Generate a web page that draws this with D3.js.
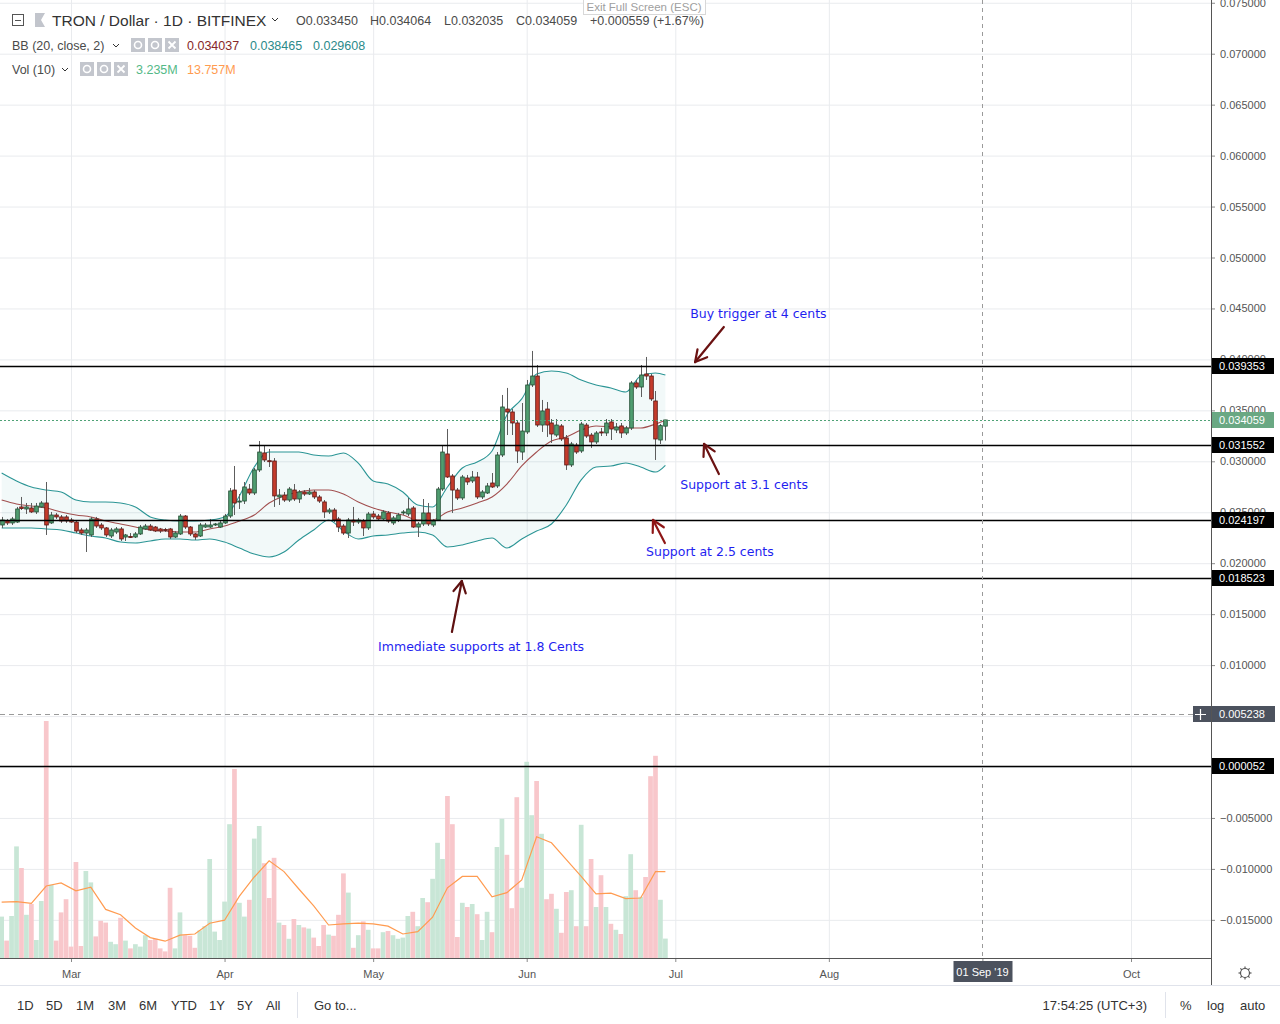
<!DOCTYPE html>
<html>
<head>
<meta charset="utf-8">
<script src="https://cdnjs.cloudflare.com/ajax/libs/d3/7.8.5/d3.min.js"></script>
<style>
body { margin: 0; background: #ffffff; }
svg text { font-family: "Liberation Sans", Arial, sans-serif; }
</style>
</head>
<body>
<div id="chart"></div>
<script>
// TRX/USD daily, Bitfinex, 15 Feb 2019 -> 29 Jun 2019 (one value per day)
var firstDay = "2019-02-15";

var openPrices = [0.02375,0.02414,0.02395,0.02404,0.02552,0.02532,0.02542,0.02503,0.02552,0.02591,
  0.02395,0.02473,0.02454,0.02454,0.02424,0.02404,0.02326,0.02296,0.02277,0.02434,
  0.02375,0.02346,0.02267,0.02306,0.02336,0.02257,0.02262,0.02257,0.02287,0.02336,
  0.02365,0.02355,0.02336,0.02331,0.02336,0.02257,0.02287,0.02463,0.02355,0.02287,
  0.02267,0.02355,0.02355,0.02375,0.02355,0.02395,0.02463,0.02718,0.02601,0.02610,
  0.02728,0.02689,0.02915,0.03082,0.03006,0.03003,0.02650,0.02669,0.02620,0.02718,
  0.02630,0.02699,0.02679,0.02699,0.02650,0.02601,0.02503,0.02522,0.02434,0.02365,
  0.02296,0.02424,0.02404,0.02414,0.02346,0.02483,0.02463,0.02434,0.02493,0.02395,
  0.02424,0.02493,0.02483,0.02542,0.02355,0.02385,0.02493,0.02375,0.02424,0.02728,
  0.03072,0.02856,0.02718,0.02640,0.02836,0.02807,0.02846,0.02650,0.02689,0.02787,
  0.02758,0.03062,0.03513,0.03484,0.03376,0.03091,0.03288,0.03749,0.03837,0.03356,
  0.03513,0.03376,0.03258,0.03347,0.03229,0.02964,0.03160,0.03101,0.03356,0.03258,
  0.03190,0.03288,0.03278,0.03386,0.03307,0.03347,0.03278,0.03327,0.03769,0.03729,
  0.03857,0.03837,0.03592,0.03209,0.033450];
var highPrices = [0.02454,0.02434,0.02454,0.02552,0.02650,0.02591,0.02591,0.02591,0.02610,0.02797,
  0.02503,0.02493,0.02473,0.02473,0.02444,0.02424,0.02346,0.02346,0.02454,0.02454,
  0.02395,0.02355,0.02346,0.02355,0.02355,0.02287,0.02296,0.02306,0.02375,0.02385,
  0.02385,0.02365,0.02346,0.02346,0.02346,0.02316,0.02483,0.02473,0.02365,0.02296,
  0.02395,0.02395,0.02434,0.02395,0.02414,0.02483,0.02738,0.02954,0.02679,0.02797,
  0.02777,0.02934,0.03199,0.03150,0.03121,0.03032,0.02728,0.02699,0.02748,0.02777,
  0.02718,0.02718,0.02738,0.02718,0.02669,0.02620,0.02542,0.02542,0.02454,0.02385,
  0.02444,0.02552,0.02444,0.02434,0.02503,0.02512,0.02483,0.02522,0.02512,0.02463,
  0.02493,0.02522,0.02640,0.02561,0.02404,0.02630,0.02591,0.02434,0.02748,0.03150,
  0.03317,0.02875,0.02738,0.02866,0.02866,0.02905,0.02895,0.02718,0.02787,0.02885,
  0.03091,0.03651,0.03720,0.03513,0.03405,0.03572,0.03798,0.04083,0.03945,0.03602,
  0.03582,0.03415,0.03415,0.03366,0.03258,0.03190,0.03180,0.03386,0.03376,0.03278,
  0.03297,0.03327,0.03415,0.03415,0.03376,0.03376,0.03347,0.03788,0.03798,0.03945,
  0.04024,0.03857,0.03690,0.03366,0.034064];
var lowPrices = [0.02346,0.02375,0.02375,0.02395,0.02522,0.02483,0.02493,0.02483,0.02542,0.02277,
  0.02385,0.02434,0.02395,0.02395,0.02395,0.02296,0.02277,0.02110,0.02257,0.02346,
  0.02326,0.02257,0.02247,0.02287,0.02218,0.02218,0.02247,0.02247,0.02277,0.02326,
  0.02316,0.02306,0.02296,0.02306,0.02238,0.02247,0.02277,0.02336,0.02267,0.02228,
  0.02257,0.02346,0.02346,0.02365,0.02346,0.02385,0.02444,0.02473,0.02532,0.02581,
  0.02669,0.02669,0.02895,0.02993,0.02944,0.02552,0.02571,0.02601,0.02601,0.02610,
  0.02591,0.02660,0.02669,0.02630,0.02591,0.02444,0.02483,0.02404,0.02306,0.02277,
  0.02247,0.02365,0.02385,0.02267,0.02326,0.02434,0.02414,0.02414,0.02395,0.02375,
  0.02404,0.02473,0.02463,0.02346,0.02257,0.02365,0.02365,0.02355,0.02414,0.02709,
  0.02836,0.02493,0.02620,0.02620,0.02768,0.02787,0.02630,0.02630,0.02679,0.02738,
  0.02738,0.03042,0.03258,0.03258,0.02983,0.03013,0.03268,0.03729,0.03337,0.03288,
  0.03239,0.03180,0.03239,0.03199,0.02915,0.02944,0.03072,0.03082,0.03229,0.03131,
  0.03170,0.03248,0.03248,0.03209,0.03278,0.03229,0.03258,0.03307,0.03710,0.03631,
  0.03798,0.03592,0.03013,0.03170,0.032035];
var closePrices = [0.02424,0.02395,0.02434,0.02532,0.02537,0.02552,0.02503,0.02561,0.02591,0.02375,
  0.02473,0.02454,0.02414,0.02414,0.02404,0.02316,0.02296,0.02326,0.02434,0.02365,
  0.02346,0.02277,0.02326,0.02336,0.02238,0.02277,0.02257,0.02287,0.02355,0.02365,
  0.02326,0.02316,0.02316,0.02321,0.02257,0.02296,0.02463,0.02355,0.02287,0.02257,
  0.02375,0.02375,0.02375,0.02385,0.02395,0.02463,0.02709,0.02591,0.02610,0.02748,
  0.02689,0.02915,0.03091,0.03013,0.02996,0.02660,0.02669,0.02620,0.02728,0.02630,
  0.02699,0.02679,0.02699,0.02650,0.02610,0.02503,0.02522,0.02424,0.02355,0.02296,
  0.02424,0.02404,0.02424,0.02346,0.02483,0.02454,0.02434,0.02503,0.02414,0.02444,
  0.02473,0.02503,0.02532,0.02355,0.02385,0.02493,0.02385,0.02414,0.02728,0.03091,
  0.02846,0.02718,0.02640,0.02846,0.02797,0.02846,0.02650,0.02699,0.02758,0.02748,
  0.03062,0.03533,0.03484,0.03376,0.03101,0.03297,0.03749,0.03837,0.03356,0.03494,
  0.03356,0.03268,0.03356,0.03219,0.02964,0.03170,0.03091,0.03366,0.03248,0.03190,
  0.03278,0.03278,0.03376,0.03317,0.03337,0.03278,0.03327,0.03769,0.03729,0.03847,
  0.03837,0.03612,0.03219,0.033500,0.034059];
// volume, millions TRX
var volumes = [6.9,2.9,7.0,18.6,15.0,7.2,9.0,3.0,9.5,39.5,
  12.2,2.9,7.6,9.8,1.9,16.0,2.0,14.5,12.6,3.6,
  6.2,5.9,2.7,2.3,6.7,2.9,1.6,2.3,1.9,3.8,
  3.0,3.2,1.6,1.1,11.7,1.6,7.6,3.8,3.7,1.7,
  4.6,5.3,16.5,4.4,3.0,9.4,22.3,31.5,9.2,6.9,
  9.7,19.9,22.0,15.8,10.0,16.7,5.9,5.5,3.2,6.5,
  5.5,5.1,4.9,3.4,2.0,5.5,3.9,3.7,7.2,14.1,
  10.9,1.7,3.8,6.1,4.7,1.6,1.6,4.3,4.5,3.8,
  3.2,3.4,7.0,7.7,5.3,10.0,9.3,13.2,19.2,16.5,
  27.0,22.3,3.5,9.2,8.5,9.0,7.3,3.0,7.7,4.3,
  18.5,23.2,17.2,8.3,26.8,11.7,32.7,23.8,29.5,20.7,
  9.8,10.7,8.2,4.2,11.0,11.3,5.3,22.2,5.3,16.5,
  8.5,13.8,8.5,5.7,4.7,4.0,10.3,17.3,11.3,10.2,
  13.5,30.3,33.7,9.7,3.235];

// indicator readings (day offset from firstDay)
var bbDays = [0,3,6,9,12,15,18,21,24,27,30,33,36,39,42,45,48,51,54,57,60,63,66,69,72,75,
  78,81,84,87,90,93,96,99,102,105,108,111,114,117,120,123,126,129,132,134];
var bbUpper = [0.02885,0.02807,0.02748,0.02718,0.02699,0.02620,0.02601,0.02601,0.02591,0.02552,
  0.02454,0.02424,0.02414,0.02414,0.02424,0.02454,0.02660,0.02944,0.03091,0.03091,
  0.03091,0.03062,0.03052,0.03082,0.02983,0.02807,0.02777,0.02699,0.02571,0.02552,
  0.02748,0.02934,0.02993,0.03101,0.03455,0.03612,0.03857,0.03886,0.03867,0.03798,
  0.03749,0.03720,0.03680,0.03837,0.03867,0.038465];
var bbMiddle = [0.02620,0.02581,0.02561,0.02542,0.02503,0.02473,0.02454,0.02414,0.02385,0.02355,
  0.02326,0.02316,0.02306,0.02306,0.02336,0.02365,0.02414,0.02473,0.02591,0.02660,
  0.02699,0.02718,0.02718,0.02679,0.02601,0.02542,0.02503,0.02473,0.02424,0.02424,
  0.02503,0.02542,0.02591,0.02650,0.02777,0.02954,0.03091,0.03199,0.03239,0.03307,
  0.03347,0.03337,0.03327,0.03327,0.03366,0.034037];
var bbLower = [0.02346,0.02346,0.02346,0.02336,0.02326,0.02296,0.02267,0.02247,0.02208,0.02198,
  0.02218,0.02238,0.02238,0.02228,0.02238,0.02208,0.02149,0.02090,0.02061,0.02110,
  0.02228,0.02326,0.02424,0.02316,0.02238,0.02267,0.02277,0.02296,0.02306,0.02277,
  0.02159,0.02179,0.02218,0.02247,0.02149,0.02238,0.02316,0.02385,0.02571,0.02817,
  0.02944,0.02954,0.02983,0.02944,0.02895,0.029608];
var volMa = [9.3,9.4,9.1,12.0,12.5,11.2,11.8,8.1,7.2,5.0,
  3.4,2.8,3.8,4.0,5.8,6.3,10.3,13.5,16.2,14.4,
  11.5,8.7,5.5,5.7,5.8,5.7,5.3,4.0,4.4,6.8,
  11.7,13.6,13.6,10.2,10.9,13.0,20.2,19.2,16.4,13.6,
  10.7,10.8,9.9,10.0,14.4,14.4];
var volMaLast = 13.757;

// drawn levels
var levelPrices = [0.039353, 0.031552, 0.024197, 0.018523, 0.000052];
var levelStartDay = [null, 50, null, null, null];
var lastPrice = 0.034059;
var cursorPrice = 0.005238;
var cursorDate = "2019-09-01";

var priceTicks = [-0.015,-0.010,-0.005,0,0.005,0.010,0.015,0.020,0.025,0.030,0.035,0.040,
  0.045,0.050,0.055,0.060,0.065,0.070,0.075];
var monthTicks = ["2019-03-01","2019-04-01","2019-05-01","2019-06-01","2019-07-01",
  "2019-08-01","2019-09-01","2019-10-01"];

var notes = [
    {text: "Buy trigger at 4 cents", day: 139.0, price: 0.04446},
    {text: "Support at 3.1 cents", day: 137.0, price: 0.02767},
    {text: "Support at 2.5 cents", day: 130.1, price: 0.02110},
    {text: "Immediate supports at 1.8 Cents", day: 76.0, price: 0.01178}
];
var arrows = [
    {fromDay: 145.8, fromPrice: 0.04318, toDay: 140.0, toPrice: 0.03974, color: "#6b1212"},
    {fromDay: 144.8, fromPrice: 0.02875, toDay: 141.8, toPrice: 0.03170, color: "#6b1212"},
    {fromDay: 133.9, fromPrice: 0.02198, toDay: 131.5, toPrice: 0.02424, color: "#8e1616"},
    {fromDay: 90.9, fromPrice: 0.01325, toDay: 92.9, toPrice: 0.01825, color: "#5e1010"}
];

var W = 1280, H = 1024;
var plotRight = 1211, plotBottom = 958, toolbarTop = 985;

var parse = d3.utcParse("%Y-%m-%d");
var dayMs = 864e5;
var start = parse(firstDay).getTime();
function dayDate(d) { return new Date(start + d * dayMs); }

var bars = openPrices.map(function (o, i) {
    return {date: dayDate(i), open: o, high: highPrices[i], low: lowPrices[i],
            close: closePrices[i], volume: volumes[i]};
});
var bands = bbDays.map(function (d, i) {
    return {date: dayDate(d), upper: bbUpper[i], middle: bbMiddle[i], lower: bbLower[i], vma: volMa[i]};
});

var x = d3.scaleUtc()
    .domain([parse("2019-03-01"), parse("2019-10-01")])
    .range([71, 1131]);
var y = d3.scaleLinear()
    .domain([0, 0.075])
    .range([767, 2.75]);
var yVol = d3.scaleLinear()
    .domain([0, 40])
    .range([plotBottom, plotBottom - 240]);

var svg = d3.select("#chart")
    .append("svg")
    .attr("width", W)
    .attr("height", H);

svg.append("rect").attr("width", W).attr("height", H).attr("fill", "#ffffff");

// grid
svg.append("g")
    .call(d3.axisLeft(y).tickValues(priceTicks).tickFormat("").tickSize(-plotRight))
    .call(function (g) { g.select(".domain").remove(); })
    .selectAll("line").attr("stroke", "#e9ebee");
svg.append("g")
    .call(d3.axisBottom(x).tickValues(monthTicks.map(parse).filter(function (d) {
        return +d !== +parse(cursorDate); })).tickFormat("").tickSize(plotBottom))
    .call(function (g) { g.select(".domain").remove(); })
    .selectAll("line").attr("stroke", "#e9ebee");

// volume
var barW = 4.7;
svg.append("g").selectAll("rect")
    .data(bars)
    .enter()
    .append("rect")
    .attr("x", function (d) { return x(d.date) - barW / 2; })
    .attr("width", barW)
    .attr("y", function (d) { return yVol(d.volume); })
    .attr("height", function (d) { return plotBottom - yVol(d.volume); })
    .attr("fill", function (d) { return d.close >= d.open ? "#c8e6d6" : "#f8c7cb"; });

svg.append("path")
    .datum(bands)
    .attr("fill", "none")
    .attr("stroke", "#ff9b50")
    .attr("stroke-width", 1.2)
    .attr("d", d3.line()
        .x(function (d) { return x(d.date); })
        .y(function (d) { return yVol(d.vma); }));

// bollinger bands
svg.append("path")
    .datum(bands)
    .attr("fill", "#1a9a9a")
    .attr("fill-opacity", 0.055)
    .attr("d", d3.area()
        .x(function (d) { return x(d.date); })
        .y0(function (d) { return y(d.lower); })
        .y1(function (d) { return y(d.upper); })
        .curve(d3.curveMonotoneX));

function bandLine(key, color) {
    svg.append("path")
        .datum(bands)
        .attr("fill", "none")
        .attr("stroke", color)
        .attr("stroke-width", 1.1)
        .attr("d", d3.line()
            .x(function (d) { return x(d.date); })
            .y(function (d) { return y(d[key]); })
            .curve(d3.curveMonotoneX));
}
bandLine("upper", "#2b9595");
bandLine("lower", "#2b9595");
bandLine("middle", "#a24f4f");

// candles
var candleW = 3.6;
var candles = svg.append("g").selectAll("g")
    .data(bars)
    .enter()
    .append("g");
candles.append("line")
    .attr("x1", function (d) { return Math.round(x(d.date)) + 0.5; })
    .attr("x2", function (d) { return Math.round(x(d.date)) + 0.5; })
    .attr("y1", function (d) { return y(d.high); })
    .attr("y2", function (d) { return y(d.low); })
    .attr("stroke", "#5d5d5d")
    .attr("stroke-width", 1);
candles.append("rect")
    .attr("x", function (d) { return Math.round(x(d.date)) + 0.5 - candleW / 2; })
    .attr("width", candleW)
    .attr("y", function (d) { return y(Math.max(d.open, d.close)); })
    .attr("height", function (d) { return Math.max(1, Math.abs(y(d.open) - y(d.close))); })
    .attr("fill", function (d) { return d.close >= d.open ? "#4f9d70" : "#c43b2c"; })
    .attr("stroke", function (d) { return d.close >= d.open ? "#1e4a30" : "#5a1512"; })
    .attr("stroke-width", 0.8);

// horizontal levels
svg.append("g").selectAll("line")
    .data(levelPrices)
    .enter()
    .append("line")
    .attr("x1", function (d, i) { return levelStartDay[i] === null ? 0 : x(dayDate(levelStartDay[i])); })
    .attr("x2", plotRight)
    .attr("y1", function (d) { return Math.round(y(d)) + 0.5; })
    .attr("y2", function (d) { return Math.round(y(d)) + 0.5; })
    .attr("stroke", "#000000")
    .attr("stroke-width", 1.3);

svg.append("line")
    .attr("x1", 0).attr("x2", plotRight)
    .attr("y1", Math.round(y(lastPrice)) + 0.5).attr("y2", Math.round(y(lastPrice)) + 0.5)
    .attr("stroke", "#4fa276")
    .attr("stroke-dasharray", "2,2");

// crosshair
var cx = Math.round(x(parse(cursorDate))) + 0.5;
var cy = Math.round(y(cursorPrice)) + 0.5;
svg.append("line").attr("x1", cx).attr("x2", cx).attr("y1", 0).attr("y2", plotBottom)
    .attr("stroke", "#9a9a9a").attr("stroke-dasharray", "4,4");
svg.append("line").attr("x1", 0).attr("x2", plotRight).attr("y1", cy).attr("y2", cy)
    .attr("stroke", "#9a9a9a").attr("stroke-dasharray", "5,4");

// annotations
svg.append("g").selectAll("text")
    .data(notes)
    .enter()
    .append("text")
    .attr("x", function (d) { return x(dayDate(d.day)); })
    .attr("y", function (d) { return y(d.price); })
    .attr("dy", "0.35em")
    .style("font-family", "'DejaVu Sans', Verdana, sans-serif")
    .style("font-size", "12.5px")
    .attr("fill", "#1f1ff0")
    .text(function (d) { return d.text; });

arrows.forEach(function (a) {
    var x0 = x(dayDate(a.fromDay)), y0 = y(a.fromPrice);
    var x1 = x(dayDate(a.toDay)), y1 = y(a.toPrice);
    var ang = Math.atan2(y0 - y1, x0 - x1);
    var g = svg.append("g").attr("stroke", a.color).attr("stroke-width", 2.2)
        .attr("stroke-linecap", "round").attr("fill", "none");
    g.append("line").attr("x1", x0).attr("y1", y0).attr("x2", x1).attr("y2", y1);
    [-0.5, 0.5].forEach(function (s) {
        g.append("line").attr("x1", x1).attr("y1", y1)
            .attr("x2", x1 + 13 * Math.cos(ang + s))
            .attr("y2", y1 + 13 * Math.sin(ang + s));
    });
});

// price axis
svg.append("rect").attr("x", plotRight).attr("y", 0).attr("width", W - plotRight)
    .attr("height", toolbarTop).attr("fill", "#ffffff");
var yAxis = svg.append("g")
    .attr("transform", "translate(" + plotRight + ",0)")
    .call(d3.axisRight(y).tickValues(priceTicks).tickFormat(d3.format(".6f")).tickSize(4).tickPadding(5));
yAxis.select(".domain").remove();
yAxis.selectAll("line").attr("stroke", "#8a8a8a");
yAxis.selectAll("text").attr("fill", "#555555").style("font-size", "11px");

function priceTag(v, fill, withCross) {
    var yy = Math.round(y(v));
    var g = svg.append("g");
    g.append("line").attr("x1", plotRight).attr("x2", plotRight + 4)
        .attr("y1", yy + 0.5).attr("y2", yy + 0.5).attr("stroke", fill);
    g.append("rect")
        .attr("x", withCross ? 1193 : plotRight + 1).attr("y", yy - 8)
        .attr("width", withCross ? 82 : 62).attr("height", 16)
        .attr("fill", fill);
    g.append("text").attr("x", 1219).attr("y", yy).attr("dy", "0.36em")
        .attr("fill", "#ffffff").style("font-size", "11px").text(d3.format(".6f")(v));
    if (withCross) {
        g.append("path").attr("d", "M1195," + (yy + 0.5) + "h11M1200.5," + (yy - 5) + "v11")
            .attr("stroke", "#ffffff").attr("stroke-width", 1.2);
    }
}
levelPrices.forEach(function (v) { priceTag(v, "#000000", false); });
priceTag(lastPrice, "#6aa883", false);
priceTag(cursorPrice, "#4c525e", true);

// time axis (the September label sits under the crosshair date box)
svg.append("rect").attr("x", 0).attr("y", plotBottom).attr("width", plotRight)
    .attr("height", toolbarTop - plotBottom).attr("fill", "#ffffff");
var xAxis = svg.append("g")
    .attr("transform", "translate(0," + plotBottom + ")")
    .call(d3.axisBottom(x).tickValues(monthTicks.map(parse))
        .tickFormat(function (d) { return +d === +parse(cursorDate) ? "" : d3.utcFormat("%b")(d); })
        .tickSize(4).tickPadding(8));
xAxis.select(".domain").remove();
xAxis.selectAll("line").attr("stroke", "#8a8a8a");
xAxis.selectAll("text").attr("fill", "#555555").style("font-size", "11px");

svg.append("line").attr("x1", 0).attr("x2", plotRight).attr("y1", plotBottom + 0.5).attr("y2", plotBottom + 0.5)
    .attr("stroke", "#555555");
svg.append("line").attr("x1", plotRight + 0.5).attr("x2", plotRight + 0.5).attr("y1", 0).attr("y2", toolbarTop)
    .attr("stroke", "#555555");

svg.append("rect").attr("x", cx - 29).attr("y", plotBottom + 3).attr("width", 59).attr("height", 21)
    .attr("fill", "#4c525e");
svg.append("text").attr("x", cx).attr("y", plotBottom + 14).attr("dy", "0.35em")
    .attr("text-anchor", "middle").attr("fill", "#ffffff").style("font-size", "11px")
    .text(d3.utcFormat("%d %b '%y")(parse(cursorDate)));

// settings gear
var gear = svg.append("g").attr("transform", "translate(1245,973)")
    .attr("stroke", "#555555").attr("fill", "none").attr("stroke-width", 1.2);
gear.append("circle").attr("r", 4.5);
d3.range(8).forEach(function (k) {
    var a = k * Math.PI / 4;
    gear.append("line").attr("x1", 4.5 * Math.cos(a)).attr("y1", 4.5 * Math.sin(a))
        .attr("x2", 6.5 * Math.cos(a)).attr("y2", 6.5 * Math.sin(a));
});

// bottom toolbar
svg.append("line").attr("x1", 0).attr("x2", W).attr("y1", toolbarTop + 0.5).attr("y2", toolbarTop + 0.5)
    .attr("stroke", "#e0e3eb");
var ranges = ["1D", "5D", "1M", "3M", "6M", "YTD", "1Y", "5Y", "All"];
var rangeX = [17, 46, 76, 108, 139, 171, 209, 237, 266];
ranges.forEach(function (r, i) {
    svg.append("text").attr("x", rangeX[i]).attr("y", 1010).attr("fill", "#333333")
        .style("font-size", "13px").text(r);
});
svg.append("line").attr("x1", 297.5).attr("x2", 297.5).attr("y1", 992).attr("y2", 1018).attr("stroke", "#e0e3eb");
svg.append("text").attr("x", 314).attr("y", 1010).attr("fill", "#333333").style("font-size", "13px").text("Go to...");
svg.append("text").attr("x", 1147).attr("y", 1010).attr("text-anchor", "end").attr("fill", "#333333")
    .style("font-size", "13px").text("17:54:25 (UTC+3)");
svg.append("line").attr("x1", 1165.5).attr("x2", 1165.5).attr("y1", 992).attr("y2", 1018).attr("stroke", "#e0e3eb");
[["%", 1180], ["log", 1207], ["auto", 1240]].forEach(function (t) {
    svg.append("text").attr("x", t[1]).attr("y", 1010).attr("fill", "#333333")
        .style("font-size", "13px").text(t[0]);
});

// legend
var legend = svg.append("g");
legend.append("rect").attr("x", 12.5).attr("y", 14.5).attr("width", 11).attr("height", 11)
    .attr("fill", "none").attr("stroke", "#555555");
legend.append("line").attr("x1", 15).attr("x2", 21).attr("y1", 20.5).attr("y2", 20.5).attr("stroke", "#555555");
legend.append("path").attr("d", "M35,13h10l-4,7l4,7h-10z").attr("fill", "#c2c5cc");
legend.append("text").attr("x", 52).attr("y", 26).attr("fill", "#333333").style("font-size", "15.5px")
    .text("TRON / Dollar \u00b7 1D \u00b7 BITFINEX");
legend.append("path").attr("d", "M272,18l3,3l3,-3").attr("fill", "none").attr("stroke", "#333333");

var ohlc = [["O", openPrices], ["H", highPrices], ["L", lowPrices], ["C", closePrices]];
var ohlcX = [296, 370, 444, 516];
var last = openPrices.length - 1;
ohlc.forEach(function (o, i) {
    legend.append("text").attr("x", ohlcX[i]).attr("y", 25).attr("fill", "#4a4a4a")
        .style("font-size", "12.5px").text(o[0] + d3.format(".6f")(o[1][last]));
});
var change = closePrices[last] - closePrices[last - 1];
legend.append("text").attr("x", 590).attr("y", 25).attr("fill", "#4a4a4a").style("font-size", "12.5px")
    .text("+" + d3.format(".6f")(change) + " (+" + d3.format(".2%")(change / closePrices[last - 1]) + ")");

function iconGroup(x0, yc) {
    [0, 17, 34].forEach(function (dx, k) {
        legend.append("rect").attr("x", x0 + dx).attr("y", yc - 7).attr("width", 14).attr("height", 14)
            .attr("fill", "#c3c6cd");
        if (k < 2) {
            legend.append("circle").attr("cx", x0 + dx + 7).attr("cy", yc).attr("r", 3.5)
                .attr("fill", "none").attr("stroke", "#ffffff").attr("stroke-width", 1.6);
        } else {
            legend.append("path").attr("d", "M" + (x0 + dx + 3.5) + "," + (yc - 3.5) + "l7,7m0,-7l-7,7")
                .attr("stroke", "#ffffff").attr("stroke-width", 1.8);
        }
    });
}
legend.append("text").attr("x", 12).attr("y", 50).attr("fill", "#4a4a4a").style("font-size", "12.5px")
    .text("BB (20, close, 2)");
legend.append("path").attr("d", "M113,44l3,3l3,-3").attr("fill", "none").attr("stroke", "#333333");
iconGroup(131, 45);
var bbLast = bbMiddle.length - 1;
[[bbMiddle, "#872727", 187], [bbUpper, "#2b8a8a", 250], [bbLower, "#2b8a8a", 313]].forEach(function (b) {
    legend.append("text").attr("x", b[2]).attr("y", 50).attr("fill", b[1]).style("font-size", "12.5px")
        .text(d3.format(".6f")(b[0][bbLast]));
});

legend.append("text").attr("x", 12).attr("y", 74).attr("fill", "#4a4a4a").style("font-size", "12.5px")
    .text("Vol (10)");
legend.append("path").attr("d", "M62,68l3,3l3,-3").attr("fill", "none").attr("stroke", "#333333");
iconGroup(80, 69);
legend.append("text").attr("x", 136).attr("y", 74).attr("fill", "#53b987").style("font-size", "12.5px")
    .text(d3.format(".3f")(volumes[last]) + "M");
legend.append("text").attr("x", 187).attr("y", 74).attr("fill", "#ff9b50").style("font-size", "12.5px")
    .text(d3.format(".3f")(volMaLast) + "M");

// full screen hint
legend.append("rect").attr("x", 583.5).attr("y", -2.5).attr("width", 122).attr("height", 17)
    .attr("fill", "#ffffff").attr("stroke", "#d8d8d8");
legend.append("text").attr("x", 644).attr("y", 11).attr("text-anchor", "middle").attr("fill", "#a0a0a0")
    .style("font-size", "11.5px").text("Exit Full Screen (ESC)");
</script>
</body>
</html>
